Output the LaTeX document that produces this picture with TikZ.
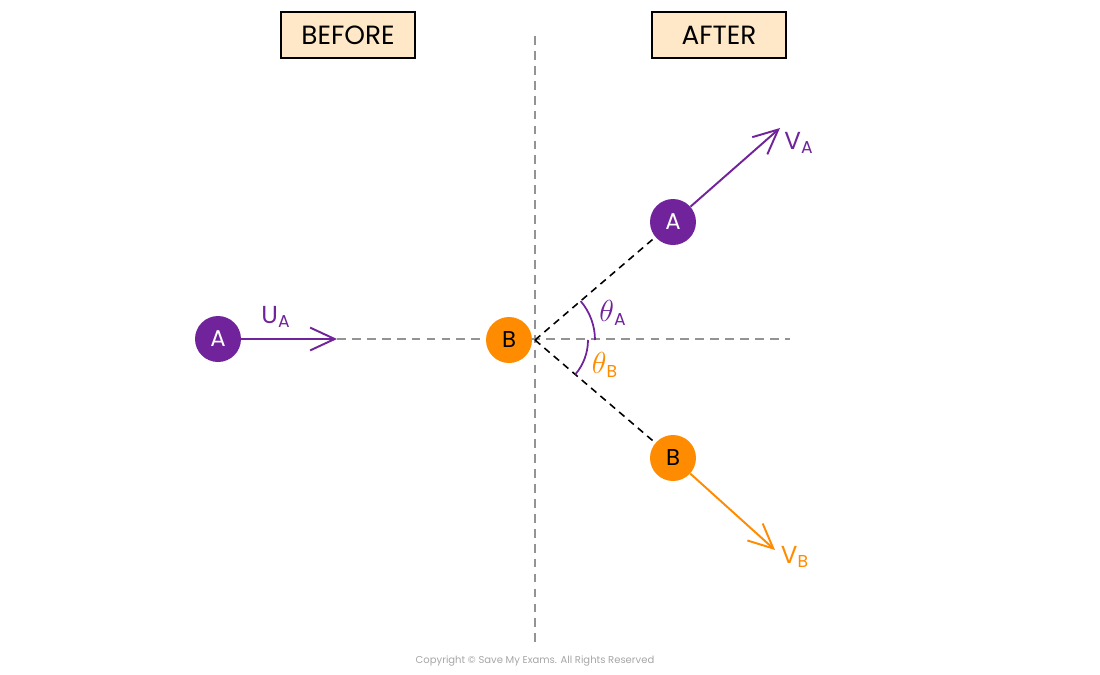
\documentclass[tikz,border=0pt]{standalone}
\usepackage{fontspec}
\setmainfont{Poppins}
\usetikzlibrary{arrows.meta,positioning}
\tikzset{% change default arrow tips
    >={Straight Barb[length=14pt,width=13pt]}
}
\definecolor{smepurple}{HTML}{70239A}
\definecolor{smeorange}{HTML}{FF8B00}
\definecolor{smebox}{HTML}{FFE8C8}

\begin{document}
\begin{tikzpicture}[x=0.02cm,y=-0.02cm]
    \newcommand{\diam}{0.92cm} % diameter of the balls
    \newcommand{\ang}{40.5} % deflection angle
    \newcommand{\bigth}{{\fontsize{18}{18}\selectfont$\theta$}} % large theta

    % set the styles
    \tikzset{
        ball/.style={circle, minimum size=\diam, inner sep=0pt, font=\fontsize{13}{13}\selectfont},
        headbox/.style={draw, line width=0.6pt, fill=smebox, minimum width=2.68cm, minimum height=0.92cm, font=\fontsize{15}{15}\selectfont},
        guide/.style={gray!85, line width=0.7pt, dash pattern=on 5pt off 3.5pt},
        track/.style={black, line width=0.9pt, dash pattern=on 4pt off 3pt},
        vel/.style={->, line width=1.1pt},
        lab/.style={font=\fontsize{14}{14}\selectfont}
    }
    \useasboundingbox (0,0) rectangle (1100,674);

    % fixed points
    \coordinate (hit) at (535,340);
    \coordinate (top) at (535,36);
    \coordinate (bottom) at (535,645);
    \coordinate (Acen) at (673,222);
    \coordinate (Bcen) at (673,458);
    \coordinate (uA) at (337,339);
    \coordinate (far) at (790,339);
    \coordinate (vA) at (780,128);
    \coordinate (vB) at (775,550);

    % guide lines
    \draw[guide] (top) -- (bottom);
    \draw[guide] (uA) -- (far);

    % paths after the collision
    \draw[track] (hit) -- (Acen);
    \draw[track] (hit) -- (Bcen);

    % angles
    \draw[smepurple, line width=1pt] (hit) ++(0:60) arc[start angle=0, end angle=-\ang, radius=60];
    \draw[smepurple, line width=1pt] (hit) ++(0:53) arc[start angle=0, end angle=\ang, radius=53];
    \node[lab, smepurple] (thA) at (613,313) {\bigth\textsubscript{A}};
    \node[lab, smeorange] (thB) at (605,365) {\bigth\textsubscript{B}};

    % headings
    \node[headbox] (before) at (348,35) {BEFORE};
    \node[headbox] (after) at (719,35) {AFTER};

    % balls
    \node[ball, fill=smepurple, text=white] (A0) at (218,339) {A};
    \node[ball, fill=smeorange] (B0) at (509,340) {B};
    \node[ball, fill=smepurple, text=white] (A1) at (Acen) {A};
    \node[ball, fill=smeorange] (B1) at (Bcen) {B};

    % velocities
    \draw[vel, smepurple] (A0) -- (uA);
    \draw[vel, smepurple] (A1) -- (vA);
    \draw[vel, smeorange] (B1) -- (vB);
    \node[lab, smepurple] (labuA) at (276,317) {U\textsubscript{A}};
    \node[lab, smepurple] (labvA) at (799,143) {V\textsubscript{A}};
    \node[lab, smeorange] (labvB) at (795,557) {V\textsubscript{B}};

    % copyright line
    \node[gray!70, font=\fontsize{5.7}{6}\selectfont] (copy) at (535,661) {Copyright © Save My Exams. All Rights Reserved};
\end{tikzpicture}
\end{document}
